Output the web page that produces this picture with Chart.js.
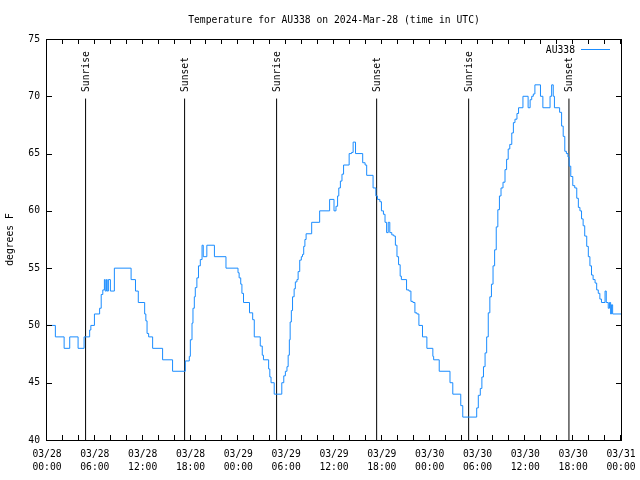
<!DOCTYPE html>
<html>
<head>
<meta charset="utf-8">
<script src="https://cdn.jsdelivr.net/npm/chart.js@4.4.1/dist/chart.umd.min.js"></script>
<style>
  html, body { margin: 0; padding: 0; background: #fff; }
</style>
</head>
<body>
<canvas id="c" width="640" height="480"></canvas>
<script>
// ── data: hours since 03/28 00:00 UTC, temperature in °F ─────────
const hours = [
  0, 1.05, 2.15, 2.85, 3.9, 4.65, 5.35, 5.5, 5.95, 6.6, 6.8, 7.0, 7.2, 7.3, 7.45, 7.55, 7.7, 7.95, 8.45,
  10.55, 11.1, 11.45, 12.25, 12.4, 12.55, 12.75, 13.25, 14.5, 15.75,
  17.35, 17.85, 17.98, 18.19, 18.31, 18.48, 18.6, 18.8, 19.0, 19.23, 19.45, 19.6, 20.05, 21.0, 22.45,
  23.96, 24.1, 24.3, 24.45, 24.65, 25.4, 25.8, 26.0, 26.75, 27.0, 27.15, 27.8, 27.95, 28.1, 28.5,
  29.45, 29.7, 29.9, 30.1, 30.25, 30.4, 30.5, 30.65, 30.8, 31.0, 31.15, 31.35, 31.5, 31.7, 31.9, 32.05,
  32.2, 32.35, 32.5, 33.2, 34.2, 35.45, 36.0, 36.25, 36.45, 36.6, 36.8, 37.0, 37.2, 37.9, 38.2, 38.4,
  38.7, 39.6, 39.9, 40.1, 40.9, 41.25, 41.45, 41.75, 41.95, 42.2, 42.4, 42.6, 42.8, 43.0, 43.25, 43.5,
  43.7, 43.9, 44.1, 44.3, 44.45, 45.1, 45.4, 45.65, 45.9, 46.15, 46.4, 46.65, 47.1, 47.65, 48.4, 48.5,
  49.2, 50.55, 50.9, 51.9, 52.15,
  53.9, 54.1, 54.35, 54.55, 54.75, 54.95, 55.15, 55.35, 55.55, 55.75, 55.95, 56.15, 56.35, 56.55, 56.75,
  56.95, 57.2, 57.45, 57.65, 57.85, 58.05, 58.3, 58.5, 58.7, 58.95, 59.15, 59.7, 60.35, 60.6, 60.8, 61.0,
  61.2, 61.9, 62.2, 63.1, 63.3, 63.5, 63.65, 64.3, 64.55, 64.75, 64.95, 65.15, 65.35, 65.5, 65.7, 65.95,
  66.2, 66.45, 66.65, 66.85, 67.05, 67.25, 67.45, 67.7, 67.9, 68.1, 68.3, 68.5, 68.75, 68.95, 69.15, 69.35,
  69.55, 70.0, 70.15, 70.4, 70.55, 70.7, 70.8, 70.95, 72
];
const temps = [
  50, 49, 48, 49, 48, 49, 49.6, 50, 51, 51.5, 52.7, 53.1, 54, 53, 54, 53, 54, 53, 55,
  54, 53, 52, 51, 50.4, 49.3, 49, 48, 47, 46,
  46.9, 47.3, 48.75, 50.2, 51.5, 52.5, 53.3, 54.15, 55.2, 55.75, 57, 56, 57, 56, 55,
  54.6, 54.15, 53.6, 52.8, 52, 51.1, 50.5, 49, 48.2, 47.4, 47, 46.2, 45.5, 45, 44,
  45, 45.6, 46, 46.4, 47.4, 48.75, 50.3, 51.3, 52.5, 53.2, 53.8, 54, 54.7, 55.7, 56, 56.2,
  56.9, 57.5, 58, 59, 60, 61, 60, 60.4, 61.3, 62, 62.6, 63.2, 64, 65, 65.1, 66,
  65, 64.2, 64, 63.1, 62, 61.3, 61, 60.8, 60, 59.7, 59, 58.1, 59, 58.1, 57.9, 57.8,
  57, 56, 55.3, 54.3, 54, 53.1, 53, 52.1, 52, 51.1, 51, 50, 49, 48, 47.3, 47,
  46, 45, 44, 43, 42,
  42.8, 43.9, 44.5, 45.5, 46.4, 47.6, 49, 51.1, 52.5, 53.6, 55.2, 56.6, 58.6, 60.1, 61.3,
  62, 62.5, 63.6, 64.5, 65.4, 65.8, 66.8, 67.7, 68, 68.5, 69, 70, 69, 69.7, 70, 70.2,
  71, 70, 69, 70, 71, 70, 69, 68.6, 67.4, 66.5, 65.2, 65, 64.7, 63.9, 63, 62.2,
  62, 61.1, 60.3, 60, 59.3, 58.7, 57.8, 56.9, 56, 55.2, 54.4, 54, 53.7, 53.1, 52.8, 52.3,
  52, 53, 52, 51.5, 52, 51, 51.8, 51, 51
];

const sunHours = [4.84, 17.26, 28.8, 41.35, 52.89, 65.47];
const sunNames = ['Sunrise', 'Sunset', 'Sunrise', 'Sunset', 'Sunrise', 'Sunset'];
const sunTop = 69.8;

const dayLabels  = ['03/28', '03/29', '03/30', '03/31'];
const timeLabels = ['00:00', '06:00', '12:00', '18:00'];

const stationName = 'AU338';
const titleText = 'Temperature for AU338 on 2024-Mar-28 (time in UTC)';

const FONT = { family: "'DejaVu Sans Mono', monospace", size: 9.7 };
const LINE_C = '#1a8cff';

// ── frame, inward ticks, title, key, sun labels ────────────────
const gnuplotBits = {
  id: 'gnuplotBits',
  afterDatasetsDraw(chart) {
    const { ctx, chartArea: a, scales: { x, y } } = chart;
    ctx.save();
    ctx.strokeStyle = '#000';
    ctx.lineWidth = 1;
    ctx.strokeRect(a.left - 0.5, a.top + 0.5, a.right - a.left + 1, a.bottom - a.top);

    ctx.beginPath();
    x.ticks.forEach(t => {
      const px = Math.round(x.getPixelForValue(t.value)) - 0.5;
      ctx.moveTo(px, a.bottom); ctx.lineTo(px, a.bottom - 5);
      ctx.moveTo(px, a.top);    ctx.lineTo(px, a.top + 5);
    });
    y.ticks.forEach(t => {
      const py = Math.round(y.getPixelForValue(t.value)) + 0.5;
      ctx.moveTo(a.left, py);  ctx.lineTo(a.left + 5, py);
      ctx.moveTo(a.right, py); ctx.lineTo(a.right - 5, py);
    });
    ctx.stroke();

    ctx.fillStyle = '#000';
    ctx.font = `${FONT.size}px ${FONT.family}`;

    // title
    ctx.textAlign = 'center';
    ctx.textBaseline = 'middle';
    ctx.fillText(titleText, (a.left + a.right) / 2, 20);

    // key
    ctx.textAlign = 'right';
    ctx.fillText(chart.data.datasets[0].label, 575, 50);
    ctx.strokeStyle = chart.data.datasets[0].borderColor;
    ctx.beginPath();
    ctx.moveTo(581, 49.5); ctx.lineTo(610, 49.5);
    ctx.stroke();

    // sunrise / sunset labels
    ctx.textAlign = 'left';
    sunHours.forEach((h, i) => {
      const px = x.getPixelForValue(h);
      ctx.save();
      ctx.translate(px + 1, 92);
      ctx.rotate(-Math.PI / 2);
      ctx.fillText(sunNames[i], 0, 0);
      ctx.restore();
    });
    ctx.restore();
  }
};

const datasets = [{
  label: stationName,
  data: hours.map((h, i) => ({ x: h, y: temps[i] })),
  borderColor: LINE_C,
  borderWidth: 1,
  pointRadius: 0,
  stepped: 'before',
  fill: false,
}];
sunHours.forEach((h, i) => {
  datasets.push({
    label: sunNames[i],
    data: [{ x: h, y: 40 }, { x: h, y: sunTop }],
    borderColor: '#000',
    borderWidth: 1,
    pointRadius: 0,
    fill: false,
  });
});

new Chart(document.getElementById('c'), {
  type: 'line',
  data: { datasets },
  options: {
    responsive: false,
    animation: false,
    devicePixelRatio: 1,
    layout: { padding: { top: 39, right: 19, left: 0, bottom: 0 } },
    plugins: { legend: { display: false }, title: { display: false }, tooltip: { enabled: false } },
    scales: {
      x: {
        type: 'linear',
        min: 0, max: 72,
        grid: { display: false, drawTicks: false },
        border: { display: false },
        afterFit: s => { s.height = 40; s.paddingLeft = 0; s.paddingRight = 0; },
        ticks: {
          stepSize: 2,
          autoSkip: false,
          maxRotation: 0, minRotation: 0,
          padding: 8,
          color: '#000',
          font: { ...FONT, lineHeight: 1.35 },
          callback: v => v % 6 === 0 ? [dayLabels[Math.floor(v / 24)], timeLabels[(v % 24) / 6]] : '',
        },
      },
      y: {
        min: 40, max: 75,
        grid: { display: false, drawTicks: false },
        border: { display: false },
        afterFit: s => { s.width = 47; },
        title: { display: true, text: 'degrees F', color: '#000', font: FONT, padding: { top: 5, bottom: 0 } },
        ticks: { stepSize: 5, padding: 7, color: '#000', font: FONT },
      },
    },
  },
  plugins: [gnuplotBits],
});
</script>
</body>
</html>
